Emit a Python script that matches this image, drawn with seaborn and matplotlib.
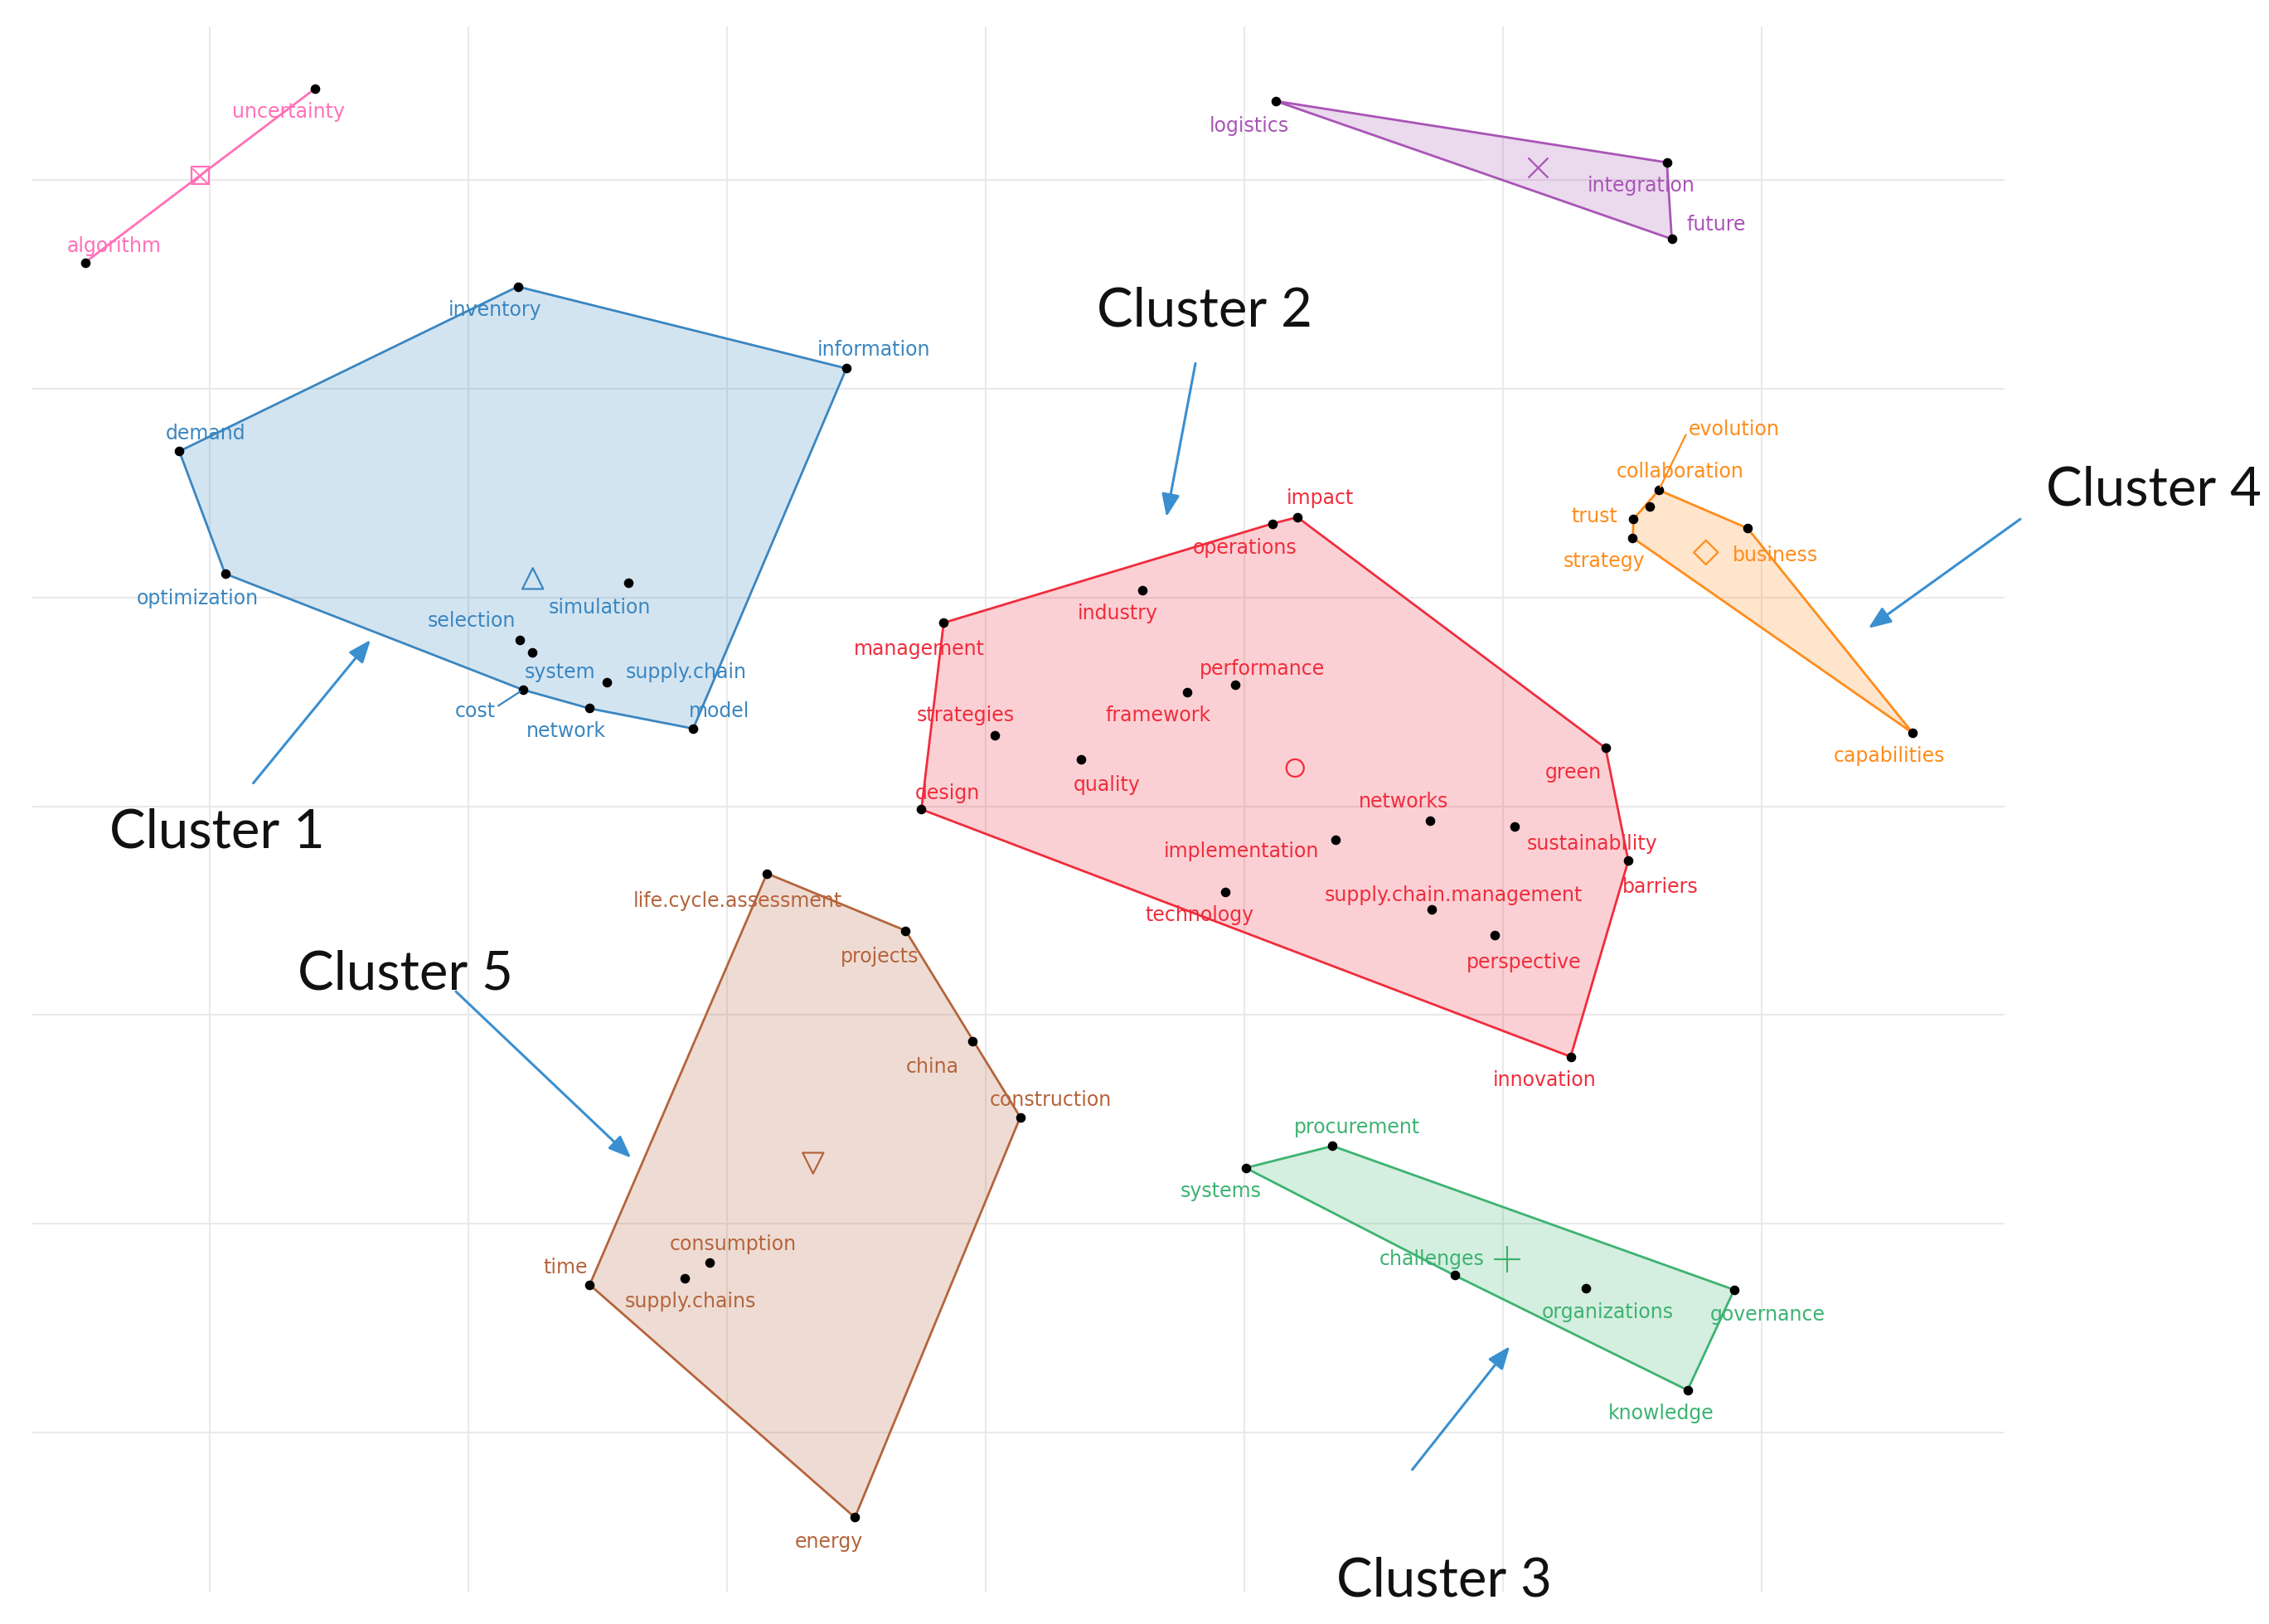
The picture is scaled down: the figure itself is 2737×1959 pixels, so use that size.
import numpy as np
import pandas as pd
import seaborn as sns
import matplotlib.pyplot as plt
from matplotlib.patches import Polygon

# keyword map: Dim1 / Dim2 coordinates (grid step = 1)
words = [
    'uncertainty', 'algorithm',
    'logistics', 'integration', 'future',
    'inventory', 'information', 'demand', 'optimization', 'simulation', 'selection',
    'system', 'supply.chain', 'cost', 'network', 'model',
    'impact', 'operations', 'industry', 'management', 'performance', 'framework',
    'strategies', 'quality', 'green', 'design', 'networks', 'sustainability',
    'implementation', 'barriers', 'technology', 'supply.chain.management',
    'perspective', 'innovation',
    'evolution', 'collaboration', 'trust', 'strategy', 'business', 'capabilities',
    'life.cycle.assessment', 'projects', 'china', 'construction', 'consumption',
    'supply.chains', 'time', 'energy',
    'procurement', 'systems', 'challenges', 'organizations', 'governance', 'knowledge',
]
dim1 = [
    -2.593, -3.480,
    1.121, 2.633, 2.652,
    -1.808, -0.538, -3.116, -2.939, -1.381, -1.801,
    -1.752, -1.464, -1.788, -1.532, -1.130,
    1.205, 1.108, 0.607, -0.162, 0.964, 0.780,
    0.036, 0.369, 2.396, -0.248, 1.717, 2.043,
    1.353, 2.484, 0.926, 1.724,
    1.969, 2.261,
    2.602, 2.568, 2.504, 2.501, 2.945, 3.583,
    -0.845, -0.309, -0.050, 0.134, -1.066,
    -1.162, -1.530, -0.505,
    1.341, 1.005, 1.813, 2.320, 2.893, 2.713,
]
dim2 = [
    3.437, 2.606,
    3.379, 3.085, 2.718,
    2.490, 2.098, 1.701, 1.114, 1.071, 0.798,
    0.739, 0.594, 0.558, 0.469, 0.372,
    1.385, 1.354, 1.036, 0.879, 0.581, 0.547,
    0.338, 0.226, 0.279, -0.015, -0.069, -0.099,
    -0.160, -0.261, -0.412, -0.496,
    -0.617, -1.200,
    1.515, 1.438, 1.376, 1.286, 1.332, 0.351,
    -0.322, -0.596, -1.126, -1.490, -2.188,
    -2.261, -2.293, -3.408,
    -1.628, -1.733, -2.248, -2.308, -2.317, -2.798,
]
cluster = [7] * 2 + [6] * 3 + [1] * 11 + [2] * 18 + [4] * 6 + [5] * 8 + [3] * 6

cluster_colors = {1: '#3a86c0', 2: '#f02c3c', 3: '#3cb371', 4: '#ff8c1a',
                  5: '#b5643c', 6: '#a855b5', 7: '#ff70b8'}
centroid_markers = {1: '^', 2: 'o', 3: '+', 4: 'D', 5: 'v', 6: 'x', 7: 's'}
centroid_sizes = {1: 330, 2: 230, 3: 520, 4: 220, 5: 330, 6: 300, 7: 230}

# where each word sits relative to its dot (screen px of the reference, x right / y down)
label_nudge = {
    'uncertainty': (-18, 16), 'algorithm': (20, -11),
    'logistics': (-18, 17), 'integration': (-18, 16), 'future': (31, -10),
    'inventory': (-16, 16), 'information': (19, -13), 'demand': (18, -12),
    'optimization': (-19, 17), 'simulation': (-20, 17), 'selection': (-33, -13),
    'system': (19, 14), 'supply.chain': (55, -7), 'cost': (-33, 15),
    'network': (-16, 16), 'model': (18, -12),
    'impact': (16, -13), 'operations': (-19, 17), 'industry': (-17, 16),
    'management': (-17, 18), 'performance': (19, -11), 'framework': (-20, 16),
    'strategies': (-20, -14), 'quality': (18, 18), 'green': (-22, 17),
    'design': (18, -11), 'networks': (-18, -13), 'sustainability': (54, 12),
    'implementation': (-65, 8), 'barriers': (22, 18), 'technology': (-18, 16),
    'supply.chain.management': (15, -10), 'perspective': (20, 19),
    'innovation': (-18, 16),
    'evolution': (52, -42), 'collaboration': (21, -24), 'trust': (-27, -2),
    'strategy': (-20, 16), 'business': (19, 19), 'capabilities': (-16, 16),
    'life.cycle.assessment': (-20, 19), 'projects': (-18, 18), 'china': (-28, 18),
    'construction': (21, -12), 'consumption': (16, -13), 'supply.chains': (4, 16),
    'time': (-17, -12), 'energy': (-18, 17),
    'procurement': (17, -13), 'systems': (-17, 16), 'challenges': (-16, -11),
    'organizations': (15, 17), 'governance': (23, 17), 'knowledge': (-18, 16),
}
leader_words = {'cost': (1, 0.7), 'evolution': (0, 0.5)}

# manual call-outs
callout_names = ['Cluster 1', 'Cluster 2', 'Cluster 3', 'Cluster 4', 'Cluster 5']
callout_text_xy = [(-2.970, -0.125), (0.845, 2.372), (1.772, -3.711), (4.513, 1.515), (-2.243, -0.804)]
callout_tail = [(-2.830, 0.111), (0.811, 2.122), (1.649, -3.179), (3.999, 1.376), (-2.047, -0.888)]
callout_head = [(-2.377, 0.797), (0.699, 1.387), (2.026, -2.588), (3.412, 0.853), (-1.370, -1.685)]


def convex_hull(points):
    pts = sorted(set(points))
    if len(pts) < 3:
        return pts

    def cross(o, a, b):
        return (a[0] - o[0]) * (b[1] - o[1]) - (a[1] - o[1]) * (b[0] - o[0])

    lower, upper = [], []
    for p in pts:
        while len(lower) >= 2 and cross(lower[-2], lower[-1], p) <= 0:
            lower.pop()
        lower.append(p)
    for p in reversed(pts):
        while len(upper) >= 2 and cross(upper[-2], upper[-1], p) <= 0:
            upper.pop()
        upper.append(p)
    return lower[:-1] + upper[:-1]


df = pd.DataFrame({'word': words, 'Dim1': dim1, 'Dim2': dim2, 'cluster': cluster})

sns.set_style('white')
plt.rcParams['font.family'] = ['DejaVu Sans']

fig = plt.figure(figsize=(27.37, 19.59), dpi=100)
ax = fig.add_axes([0.01403, 0.0196, 0.8693, 0.9643])
ax.set_xlim(-3.686, 3.937)
ax.set_ylim(-3.766, 3.738)
ax.set_xticks(np.arange(-3, 4))
ax.set_yticks(np.arange(-3, 4))
ax.tick_params(length=0, labelbottom=False, labelleft=False)
ax.grid(color='#e9e9e9', linewidth=1.5)
ax.set_axisbelow(True)
sns.despine(ax=ax, left=True, bottom=True)
ax.set_xlabel('')
ax.set_ylabel('')

# cluster hulls
for cl, grp in df.groupby('cluster'):
    col = cluster_colors[cl]
    hull = convex_hull(list(zip(grp['Dim1'], grp['Dim2'])))
    if len(hull) >= 3:
        ax.add_patch(Polygon(hull, closed=True, facecolor=col, alpha=0.22,
                             edgecolor='none', zorder=1))
        ax.add_patch(Polygon(hull, closed=True, facecolor='none',
                             edgecolor=col, linewidth=2.0, zorder=2))
    else:
        hx, hy = zip(*hull)
        ax.plot(hx, hy, color=col, linewidth=2.0, zorder=2)

# keyword dots
sns.scatterplot(data=df, x='Dim1', y='Dim2', color='black', s=70,
                linewidth=0, ax=ax, zorder=4, legend=False)

# cluster centres
centres = df.groupby('cluster')[['Dim1', 'Dim2']].mean()
for cl, row in centres.iterrows():
    col = cluster_colors[cl]
    m = centroid_markers[cl]
    if m in ('+', 'x'):
        ax.scatter(row['Dim1'], row['Dim2'], marker=m, s=centroid_sizes[cl],
                   color=col, linewidths=1.6, zorder=3)
    else:
        ax.scatter(row['Dim1'], row['Dim2'], marker=m, s=centroid_sizes[cl],
                   facecolors='none', edgecolors=col, linewidths=1.6, zorder=3)
    if cl == 7:
        ax.scatter(row['Dim1'], row['Dim2'], marker='x', s=centroid_sizes[cl] * 0.75,
                   color=col, linewidths=1.4, zorder=3)

# word labels
k = 1.7455 * 72 / 100
for _, r in df.iterrows():
    dx, dy = label_nudge[r['word']]
    col = cluster_colors[r['cluster']]
    props = None
    if r['word'] in leader_words:
        props = dict(arrowstyle='-', color=col, lw=1.6, shrinkA=0, shrinkB=3,
                     relpos=leader_words[r['word']])
    ax.annotate(r['word'], (r['Dim1'], r['Dim2']), xytext=(dx * k, -dy * k),
                textcoords='offset points', ha='center', va='center',
                fontsize=17, color=col, zorder=5, arrowprops=props)

# cluster call-outs
for name, txy, tail, head in zip(callout_names, callout_text_xy, callout_tail, callout_head):
    ax.text(txy[0], txy[1], name, fontsize=47, family=['Lato', 'DejaVu Sans'],
            ha='center', va='center', color='#111111', clip_on=False, zorder=6)
    ax.annotate('', xy=head, xytext=tail, annotation_clip=False,
                arrowprops=dict(arrowstyle='-|>,head_length=0.75,head_width=0.3',
                                color='#3a8fd0', lw=2.2, mutation_scale=22,
                                shrinkA=0, shrinkB=0), zorder=6)

fig.savefig('out.png', dpi=100, facecolor='white')
